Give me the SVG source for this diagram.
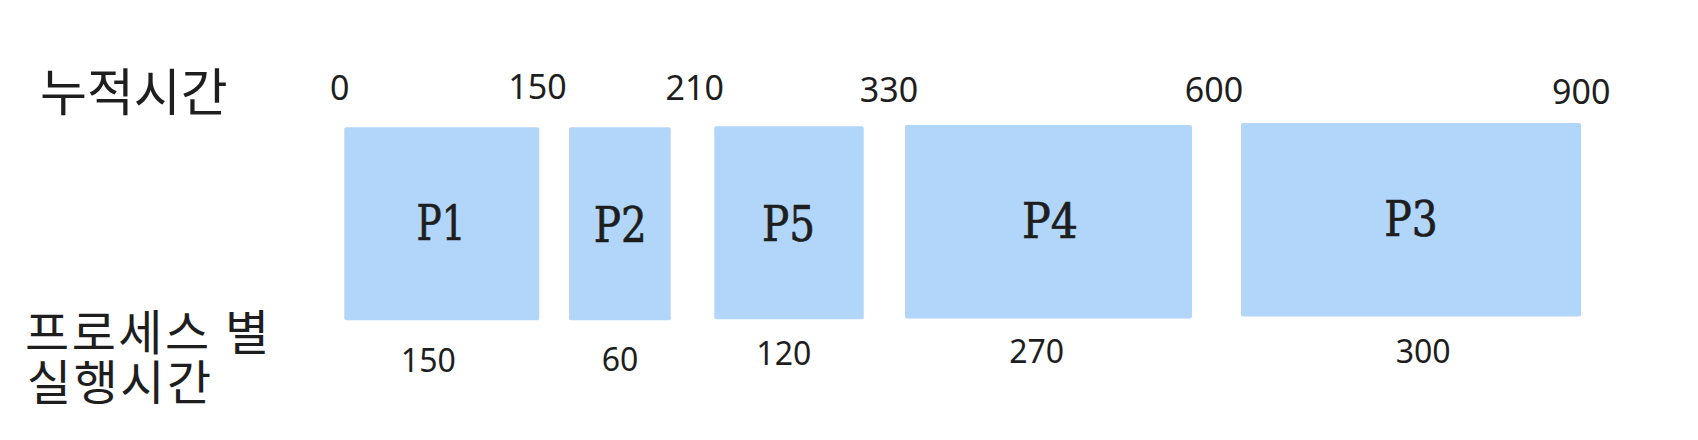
<svg xmlns="http://www.w3.org/2000/svg" width="1698" height="440" viewBox="0 0 1698 440">
<style>
  .box { fill: #b1d6fa; }
  .kr { font-family: "Noto Sans CJK KR", "Noto Sans", sans-serif; font-size: 51px; fill: #1e1e1e; }
  .kr2 { font-family: "Noto Sans CJK KR", "Noto Sans", sans-serif; font-size: 48px; letter-spacing: 2.5px; fill: #1e1e1e; }
  .num { font-family: "Noto Sans", "Liberation Sans", sans-serif; font-size: 34px; fill: #1e1e1e; text-anchor: middle; }
  .dur { font-family: "Noto Sans", "Liberation Sans", sans-serif; font-size: 32px; fill: #1e1e1e; text-anchor: middle; }
  .pl { font-family: "DejaVu Serif", "Liberation Serif", serif; font-size: 48px; fill: #1e1e1e; stroke: #1e1e1e; stroke-width: 0.7px; text-anchor: middle; }
</style>
<rect width="1698" height="440" fill="#ffffff"/>
<g id="labels">
  <text class="kr" x="40" y="110.5">누적시간</text>
  <text class="kr2"><tspan x="25" y="350">프로세스 별</tspan><tspan x="27" y="399.5">실행시간</tspan></text>
</g>
<g id="axis">
  <text class="num" x="339.7" y="100">0</text>
  <text class="num" x="537.5" y="99">150</text>
  <text class="num" x="694.7" y="100">210</text>
  <text class="num" x="889" y="101.5">330</text>
  <text class="num" x="1214" y="101.5">600</text>
  <text class="num" x="1581.3" y="104">900</text>
</g>
<g id="P1">
  <rect class="box" x="344.3" y="127.3" width="195" height="193" rx="2"/>
  <text class="pl" x="441" y="240" textLength="49" lengthAdjust="spacingAndGlyphs">P1</text>
  <text class="dur" x="428.3" y="371.5">150</text>
</g>
<g id="P2">
  <rect class="box" x="569" y="127.3" width="101.7" height="193" rx="2"/>
  <text class="pl" x="620.3" y="241.5" textLength="53" lengthAdjust="spacingAndGlyphs">P2</text>
  <text class="dur" x="620" y="371">60</text>
</g>
<g id="P5">
  <rect class="box" x="714.3" y="126.3" width="149.4" height="193" rx="2"/>
  <text class="pl" x="788.5" y="240.5" textLength="53" lengthAdjust="spacingAndGlyphs">P5</text>
  <text class="dur" x="783.8" y="365">120</text>
</g>
<g id="P4">
  <rect class="box" x="905" y="125" width="287" height="193.5" rx="2"/>
  <text class="pl" x="1049.9" y="238" textLength="56" lengthAdjust="spacingAndGlyphs">P4</text>
  <text class="dur" x="1036.7" y="362.5">270</text>
</g>
<g id="P3">
  <rect class="box" x="1241" y="123" width="340" height="193.5" rx="2"/>
  <text class="pl" x="1411" y="235.5" textLength="53.5" lengthAdjust="spacingAndGlyphs">P3</text>
  <text class="dur" x="1423.2" y="363">300</text>
</g>
<g id="connectors"></g>
</svg>
